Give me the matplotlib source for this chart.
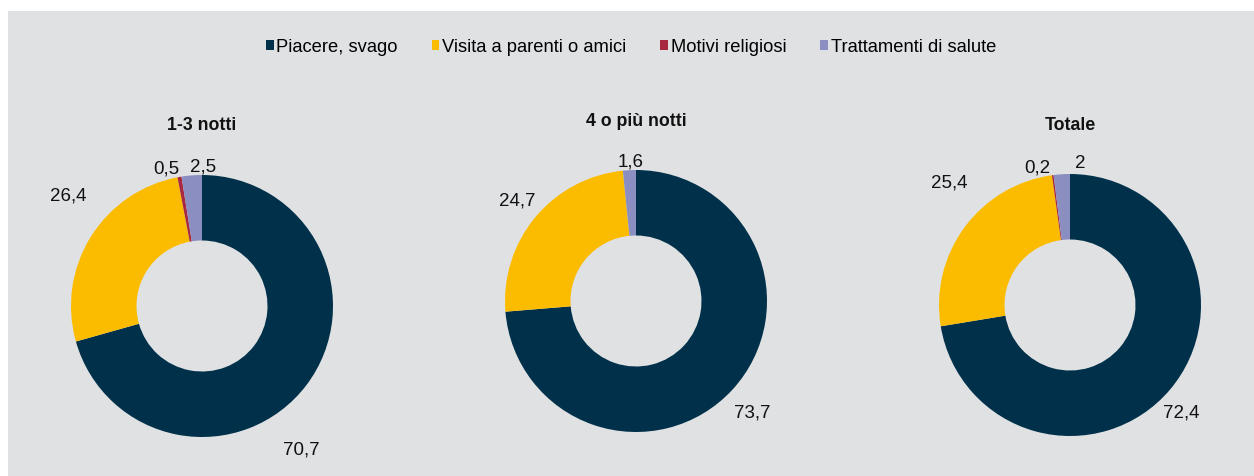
import matplotlib.pyplot as plt
from matplotlib.patches import Patch, Rectangle

plt.rcParams['font.family'] = ['Liberation Sans', 'DejaVu Sans']

categorie = ["Piacere, svago", "Visita a parenti o amici", "Motivi religiosi", "Trattamenti di salute"]
colori = ["#00304a", "#fbbc00", "#a8283f", "#8a8ec0"]

titoli = ["1-3 notti", "4 o più notti", "Totale"]
notti_1_3 = [70.7, 26.4, 0.5, 2.5]
notti_4_piu = [73.7, 24.7, 0.0, 1.6]
totale = [72.4, 25.4, 0.2, 2.0]
serie = [notti_1_3, notti_4_piu, totale]

# posizione delle etichette (in unità del raggio), None = non mostrata
pos_etichette = [
    [(0.76, -1.09), (-1.02, 0.85), (-0.27, 1.05), (0.01, 1.07)],
    [(0.89, -0.85), (-0.91, 0.77), None, (-0.04, 1.07)],
    [(0.85, -0.82), (-0.92, 0.94), (-0.25, 1.05), (0.08, 1.09)],
]

W, H = 1254, 477
R = 131          # raggio esterno in pixel
centri = [(202, 307), (636, 302), (1070, 306)]
titoli_y = [125, 121, 125]

fig = plt.figure(figsize=(W / 100, H / 100), dpi=100)
fig.patch.set_facecolor("white")
fig.patches.append(Rectangle((8 / W, 0), 1, (H - 12) / H, transform=fig.transFigure,
                             facecolor="#e0e1e3", edgecolor="none", zorder=-10))

half = 1.6
for valori, titolo, etich, (cx, cy), ty in zip(serie, titoli, pos_etichette, centri, titoli_y):
    lato = half * R
    ax = fig.add_axes([(cx - lato) / W, (H - cy - lato) / H, 2 * lato / W, 2 * lato / H])
    ax.set_facecolor("none")
    ax.pie(valori, colors=colori, startangle=90, counterclock=False,
           radius=1, wedgeprops=dict(width=0.5, edgecolor="none"))
    ax.set_xlim(-half, half)
    ax.set_ylim(-half, half)
    ax.set_aspect("equal")
    ax.axis("off")
    for v, p in zip(valori, etich):
        if p is None:
            continue
        testo = f"{v:g}".replace(".", ",")
        ax.text(p[0], p[1], testo, ha="center", va="center", fontsize=13.5, color="#111111")
    fig.text(cx / W, 1 - ty / H, titolo, ha="center", va="center",
             fontsize=12.8, fontweight="bold", color="#111111")

maniglie = [Patch(facecolor=c, edgecolor="none") for c in colori]
fig.legend(maniglie, categorie, loc="center", bbox_to_anchor=(631 / W, 1 - 48 / H),
           ncol=4, frameon=False, fontsize=13.2, handlelength=0.42, handleheight=0.42,
           handletextpad=0.15, columnspacing=1.85)

fig.savefig("out.png", dpi=100, facecolor=fig.get_facecolor())
